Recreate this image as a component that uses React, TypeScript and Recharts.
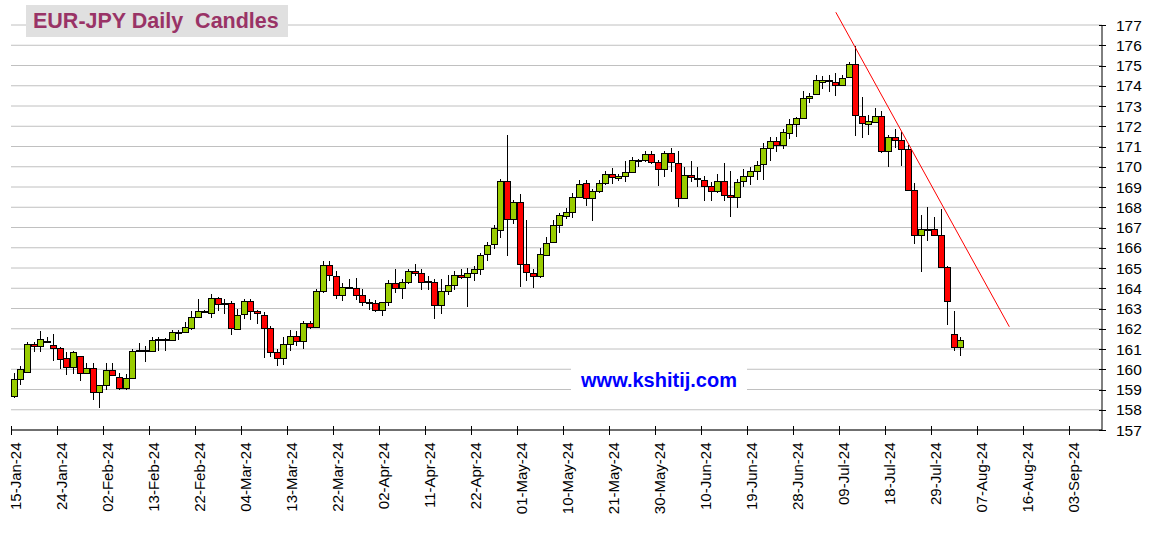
import React from 'react';
import { ComposedChart, Bar, XAxis, YAxis, CartesianGrid, ReferenceLine } from 'recharts';

// EUR-JPY daily candles, one entry per trading day from 15-Jan-24
const open = [
  158.70, 159.50, 159.88, 161.23, 161.13, 161.40, 161.18, 161.03, 160.58, 160.13,
  160.63, 159.80, 160.05, 158.90, 159.20, 159.95, 159.63, 159.08, 159.58, 160.92,
  160.97, 160.88, 161.47, 161.50, 161.46, 161.83, 161.83, 162.04, 162.59, 162.88,
  162.79, 163.51, 163.20, 163.28, 161.99, 162.75, 163.36, 162.88, 162.69, 162.04,
  160.85, 160.55, 161.25, 161.63, 161.40, 162.26, 162.09, 163.84, 165.13, 164.61,
  163.66, 164.07, 164.03, 163.67, 163.33, 163.25, 162.92, 163.30, 164.28, 164.00,
  164.33, 164.87, 164.77, 164.36, 164.33, 163.16, 163.84, 164.18, 164.67, 164.56,
  164.77, 164.93, 165.70, 166.20, 166.90, 169.29, 167.42, 168.25, 165.20, 164.76,
  164.62, 165.66, 166.29, 167.13, 167.59, 167.77, 168.51, 169.20, 168.46, 168.81,
  169.20, 169.65, 169.45, 169.53, 169.75, 170.32, 170.31, 170.64, 170.25, 169.89,
  170.67, 170.19, 168.44, 169.61, 169.42, 169.37, 169.04, 168.79, 169.32, 168.59,
  168.49, 169.28, 169.53, 169.78, 170.14, 170.91, 171.29, 171.05, 171.67, 172.12,
  172.40, 173.39, 173.60, 174.20, 174.24, 174.18, 174.04, 174.45, 175.06, 172.53,
  172.11, 172.20, 172.50, 170.79, 171.45, 171.33, 170.88, 168.85, 166.64, 166.94,
  166.94, 166.64, 165.06, 161.74, 161.10,
];
const high = [
  159.83, 160.17, 161.33, 161.37, 161.87, 161.58, 161.75, 161.08, 160.83, 160.92,
  160.65, 160.33, 160.33, 159.22, 160.33, 160.33, 159.83, 159.75, 161.00, 161.30,
  161.17, 161.58, 161.58, 161.55, 161.96, 161.96, 162.32, 162.87, 163.48, 162.95,
  163.74, 163.55, 163.45, 163.36, 162.98, 163.48, 163.45, 162.92, 162.82, 162.12,
  160.98, 161.60, 161.96, 161.89, 162.40, 162.40, 163.98, 165.35, 165.35, 164.85,
  164.28, 164.44, 164.49, 163.95, 163.46, 163.41, 163.33, 164.39, 164.93, 164.44,
  164.97, 165.18, 164.97, 164.60, 164.44, 164.44, 164.64, 164.85, 164.97, 165.02,
  165.10, 165.75, 166.28, 167.10, 169.40, 171.59, 168.38, 168.63, 167.39, 164.95,
  165.99, 166.54, 167.36, 167.72, 167.97, 168.68, 169.37, 169.34, 168.91, 169.34,
  169.78, 169.95, 169.66, 170.28, 170.49, 170.40, 170.80, 170.77, 170.35, 170.77,
  170.91, 170.77, 170.01, 170.30, 169.98, 169.56, 169.23, 169.65, 170.17, 169.81,
  169.40, 169.89, 169.98, 170.30, 171.16, 171.46, 171.46, 171.87, 172.36, 172.48,
  173.72, 173.63, 174.51, 174.46, 174.54, 174.62, 174.54, 175.19, 175.98, 173.44,
  172.57, 172.90, 172.76, 171.58, 171.86, 171.70, 171.06, 169.22, 167.60, 168.03,
  167.53, 167.93, 165.08, 162.86, 161.59,
];
const low = [
  158.58, 159.23, 159.83, 160.87, 160.83, 161.33, 160.42, 160.00, 159.70, 159.75,
  159.42, 159.75, 158.50, 158.08, 159.00, 159.67, 159.00, 159.00, 159.50, 160.83,
  160.37, 160.83, 160.92, 160.88, 161.43, 161.43, 161.79, 161.93, 162.54, 162.82,
  162.52, 162.87, 162.75, 161.71, 161.96, 162.49, 162.45, 162.21, 160.55, 160.60,
  160.17, 160.22, 160.88, 161.13, 161.02, 162.00, 162.04, 163.78, 164.36, 163.46,
  163.38, 163.98, 163.43, 163.13, 162.93, 162.84, 162.61, 163.10, 163.79, 163.49,
  164.20, 164.61, 163.92, 163.92, 162.48, 162.72, 163.66, 163.92, 164.44, 163.05,
  164.36, 164.64, 165.34, 165.93, 166.49, 165.61, 167.19, 164.06, 164.34, 164.01,
  164.51, 165.58, 166.27, 166.73, 167.42, 167.47, 168.46, 168.05, 167.31, 168.71,
  169.12, 169.17, 169.28, 169.25, 169.70, 170.00, 170.24, 170.14, 169.05, 169.48,
  169.73, 168.03, 168.41, 169.23, 168.99, 168.33, 168.33, 168.69, 168.33, 167.54,
  167.97, 168.99, 169.12, 169.35, 169.35, 170.30, 170.72, 170.88, 171.38, 171.49,
  172.36, 173.14, 173.57, 173.82, 173.68, 173.47, 174.01, 174.37, 171.50, 171.42,
  171.55, 172.18, 170.68, 169.97, 170.92, 170.02, 168.79, 166.17, 164.80, 166.33,
  166.60, 165.04, 162.17, 160.88, 160.64,
];
const close = [
  159.53, 160.03, 161.23, 161.13, 161.47, 161.38, 161.03, 160.53, 160.13, 160.83,
  159.80, 160.05, 158.90, 159.20, 159.95, 159.70, 159.08, 159.58, 160.92, 160.97,
  160.88, 161.42, 161.50, 161.48, 161.83, 161.86, 162.09, 162.59, 162.88, 162.90,
  163.51, 163.20, 163.28, 162.04, 162.69, 163.36, 162.87, 162.79, 162.04, 160.85,
  160.55, 161.23, 161.63, 161.40, 162.29, 162.09, 163.84, 165.13, 164.64, 163.67,
  164.08, 164.05, 163.67, 163.30, 163.31, 162.92, 163.30, 164.28, 164.00, 164.33,
  164.87, 164.77, 164.33, 164.35, 163.16, 163.84, 164.18, 164.67, 164.56, 164.77,
  164.93, 165.62, 166.15, 166.98, 169.29, 167.42, 168.25, 165.20, 164.81, 164.62,
  165.70, 166.24, 167.13, 167.62, 167.77, 168.51, 169.15, 168.46, 168.79, 169.20,
  169.65, 169.48, 169.53, 169.75, 170.31, 170.34, 170.64, 170.24, 169.88, 170.67,
  170.22, 168.44, 169.61, 169.48, 169.38, 169.04, 168.79, 169.32, 168.59, 168.49,
  169.23, 169.53, 169.78, 170.09, 170.91, 171.29, 171.08, 171.70, 172.12, 172.40,
  173.39, 173.48, 174.26, 174.30, 174.26, 174.04, 174.37, 175.06, 172.57, 172.16,
  172.27, 172.53, 170.79, 171.45, 171.33, 170.88, 168.87, 166.64, 166.94, 166.92,
  166.64, 165.06, 163.36, 161.10, 161.43,
];

// one label every 7 trading days
const tickLabels = [
  '15-Jan-24', '24-Jan-24', '02-Feb-24', '13-Feb-24', '22-Feb-24', '04-Mar-24',
  '13-Mar-24', '22-Mar-24', '02-Apr-24', '11-Apr-24', '22-Apr-24', '01-May-24',
  '10-May-24', '21-May-24', '30-May-24', '10-Jun-24', '19-Jun-24', '28-Jun-24',
  '09-Jul-24', '18-Jul-24', '29-Jul-24', '07-Aug-24', '16-Aug-24', '03-Sep-24',
];
const priceTicks = [157, 158, 159, 160, 161, 162, 163, 164, 165, 166, 167, 168, 169, 170, 171, 172, 173, 174, 175, 176, 177];

// hand drawn resistance line (day index, price)
const trendDays = [125.5, 151.9];
const trendPrices = [177.63, 162.1];

const FONT = '"Liberation Sans", Arial, sans-serif';
const UP = '#99cc00';
const DOWN = '#ff0000';
const CANDLE_SHIFT = 0.4;

const candles = open.map((o, i) => ({
  day: i + CANDLE_SHIFT,
  open: o,
  high: high[i],
  low: low[i],
  close: close[i],
  range: [low[i], high[i]],
}));

const crisp = (v: number) => Math.round(v) + 0.5;

const Candle = (props: any) => {
  const { x, y, width, height, payload } = props;
  if (!payload || x == null) return null;
  const top = Math.min(y, y + height);
  const bottom = Math.max(y, y + height);
  const k = (bottom - top) / (payload.high - payload.low || 1);
  const toY = (v: number) => top + (payload.high - v) * k;
  const c = Math.round(x + width / 2);
  const yo = crisp(toY(payload.open));
  const yc = crisp(toY(payload.close));
  const bodyTop = Math.min(yo, yc);
  const bodyH = Math.max(Math.abs(yo - yc), 1);
  const isUp = payload.close >= payload.open;
  return (
    <g>
      <line x1={c + 0.5} x2={c + 0.5} y1={Math.round(top)} y2={Math.round(bottom)} stroke="#000" strokeWidth={1} />
      <rect x={c - 2.5} y={bodyTop} width={6} height={bodyH} fill={isUp ? UP : DOWN} stroke="#000" strokeWidth={1} />
    </g>
  );
};

const DayTick = (props: any) => {
  const { x, y, payload } = props;
  const label = tickLabels[Math.round(payload.value / 7)];
  const cx = crisp(x);
  return (
    <g>
      <line x1={cx} x2={cx} y1={y - 4} y2={y + 5} stroke="#000" />
      <text
        transform={`translate(${x + 9.5},${y + 12.5}) rotate(-90)`}
        textAnchor="end"
        fontSize={15}
        fontFamily={FONT}
        fill="#000"
      >
        {label}
      </text>
    </g>
  );
};

const PriceTick = (props: any) => {
  const { x, y, payload } = props;
  const cy = crisp(y);
  return (
    <g>
      <line x1={x - 3} x2={x + 4} y1={cy} y2={cy} stroke="#000" />
      <text x={x + 14} y={y} dy="0.36em" textAnchor="start" fontSize={15.5} fontFamily={FONT} fill="#000">
        {payload.value}
      </text>
    </g>
  );
};

export default function App() {
  return (
    <div style={{ position: 'absolute', left: 0, top: 0, width: 1151, height: 534, background: '#fff', fontFamily: FONT }}>
      <ComposedChart
        width={1151}
        height={534}
        data={candles}
        margin={{ top: 25, right: 0, bottom: 0, left: 11 }}
      >
        <CartesianGrid horizontal vertical={false} stroke="#c0c0c0" strokeWidth={1} />
        <XAxis
          dataKey="day"
          type="number"
          domain={[0, 166]}
          allowDataOverflow
          ticks={tickLabels.map((_, i) => i * 7)}
          interval={0}
          tick={<DayTick />}
          tickSize={0}
          tickMargin={0}
          tickLine={false}
          axisLine={{ stroke: '#000' }}
          height={104}
        />
        <YAxis
          orientation="right"
          type="number"
          domain={[157, 177]}
          ticks={priceTicks}
          interval={0}
          tick={<PriceTick />}
          tickSize={0}
          tickMargin={0}
          tickLine={false}
          axisLine={{ stroke: '#000' }}
          width={49}
        />
        <Bar dataKey="range" barSize={5} shape={<Candle />} isAnimationActive={false} />
        <ReferenceLine
          segment={[
            { x: trendDays[0], y: trendPrices[0] },
            { x: trendDays[1], y: trendPrices[1] },
          ]}
          stroke="#ff0000"
          strokeWidth={1}
          ifOverflow="visible"
        />
      </ComposedChart>
      <div
        style={{
          position: 'absolute', left: 26, top: 5, width: 255, height: 32, paddingLeft: 7,
          background: '#e0e0e0', color: '#993366', fontWeight: 'bold', fontSize: 21.5,
          lineHeight: '32px', whiteSpace: 'pre',
        }}
      >
        EUR-JPY Daily  Candles
      </div>
      <div
        style={{
          position: 'absolute', left: 571, top: 366, width: 176, height: 28,
          background: '#fff', color: '#0000ff', fontWeight: 'bold', fontSize: 20,
          lineHeight: '28px', textAlign: 'center',
        }}
      >
        www.kshitij.com
      </div>
    </div>
  );
}
